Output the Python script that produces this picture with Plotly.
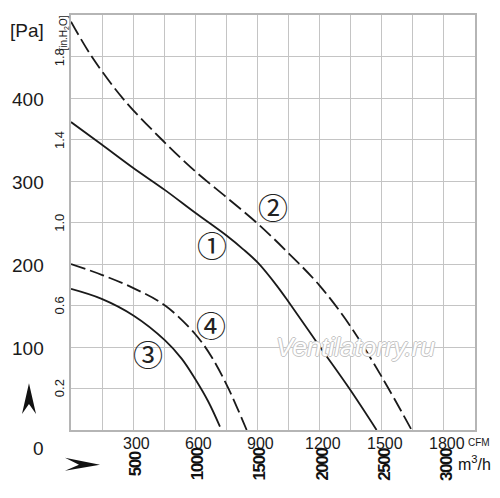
import plotly.graph_objects as go

# fan curves, flow in CFM, static pressure in Pa
flow_1 = [0, 148, 299, 454, 598, 752, 830, 904, 993, 1054, 1202, 1346, 1475]
pres_1 = [371, 344, 316, 289, 262, 234, 218, 201, 174, 153, 100, 49, 0]

flow_2 = [0, 100, 252, 438, 598, 752, 904, 1054, 1200, 1346, 1500, 1644]
pres_2 = [492, 450, 399, 350, 312, 280, 248, 212, 174, 126, 64, 0]

flow_3 = [0, 148, 301, 454, 534, 598, 663, 719]
pres_3 = [170, 158, 138, 108, 86, 62, 34, 4]

flow_4 = [0, 148, 301, 454, 598, 679, 752, 800, 848]
pres_4 = [200, 187, 171, 150, 116, 88, 54, 28, 0]

curve_labels = ["①", "②", "③", "④"]
label_flow = [679, 976, 370, 674]
label_pres = [224, 270, 93, 128]

pa_ticks = [0, 100, 200, 300, 400]
inh2o_ticks = [0.2, 0.6, 1.0, 1.4, 1.8]
cfm_ticks = [300, 600, 900, 1200, 1500, 1800]
m3h_ticks = [500, 1000, 1500, 2000, 2500, 3000]

PA_PER_INH2O = 249.1
M3H_SCALE = 0.6  # the chart draws 500 m3/h under 300 CFM

FONT = "Liberation Sans, Arial, sans-serif"
INK = "#1a1a1a"

fig = go.Figure()

solid = dict(color=INK, width=1.8, shape="spline", smoothing=1.0)
dashed = dict(color=INK, width=1.8, dash="15px,5px", shape="spline", smoothing=1.0)

fig.add_trace(go.Scatter(x=flow_1, y=pres_1, mode="lines", line=solid))
fig.add_trace(go.Scatter(x=flow_2, y=pres_2, mode="lines", line=dashed))
fig.add_trace(go.Scatter(x=flow_3, y=pres_3, mode="lines", line=solid))
fig.add_trace(go.Scatter(x=flow_4, y=pres_4, mode="lines", line=dashed))

# circled curve numbers
for lab, fx, py in zip(curve_labels, label_flow, label_pres):
    fig.add_annotation(x=fx, y=py, text=lab, showarrow=False,
                       font=dict(family="Noto Sans CJK JP, DejaVu Sans", size=30, color="#222"))

# Pa labels (left)
for v in pa_ticks:
    fig.add_annotation(x=0, xref="paper", y=v, text=str(v), showarrow=False,
                       xanchor="right", xshift=-25, yshift=-18 if v == 0 else -1,
                       font=dict(family=FONT, size=19, color=INK))

# in.H2O labels (rotated)
for v in inh2o_ticks:
    fig.add_annotation(x=0, xref="paper", y=v * PA_PER_INH2O, text=f"{v:.1f}",
                       showarrow=False, textangle=-90, xanchor="right", xshift=-2,
                       font=dict(family=FONT, size=13, color=INK))

# CFM labels
for v in cfm_ticks:
    fig.add_annotation(x=v, y=0, yref="paper", text=str(v), showarrow=False,
                       yanchor="top", yshift=-3, xshift=3,
                       font=dict(family=FONT, size=16, color=INK))

# m3/h labels (rotated)
for v in m3h_ticks:
    fig.add_annotation(x=v * M3H_SCALE, y=0, yref="paper",
                       text=f'<span style="letter-spacing:-1.5px">{v}</span>',
                       showarrow=False, textangle=-90, yanchor="middle", yshift=-34, xshift=2,
                       font=dict(family=FONT, size=17, color="#111", weight="bold"))

fig.add_annotation(x=0, y=1, xref="paper", yref="paper", text="[Pa]", showarrow=False,
                   xanchor="right", yanchor="top", xshift=-25, yshift=-3,
                   font=dict(family=FONT, size=19, color=INK))
fig.add_annotation(x=0, y=1, xref="paper", yref="paper", text="[in.H<sub>2</sub>O]",
                   showarrow=False, textangle=-90, xanchor="right", yanchor="top",
                   xshift=0, yshift=1, font=dict(family=FONT, size=10, color=INK))
fig.add_annotation(x=1, y=0, xref="paper", yref="paper", text="CFM", showarrow=False,
                   xanchor="left", yanchor="top", xshift=-9, yshift=-5,
                   font=dict(family=FONT, size=10, color=INK))
fig.add_annotation(x=1, y=0, xref="paper", yref="paper", text="m<sup>3</sup>/h",
                   showarrow=False, xanchor="left", yanchor="top", xshift=-19, yshift=-21,
                   font=dict(family=FONT, size=16, color="#111"))

fig.add_annotation(x=1371, y=100, text="<i>Ventilatorry.ru</i>", showarrow=False,
                   font=dict(family=FONT, size=26, color="#ffffff",
                             shadow="1px 0 0 #c4c4c4, -1px 0 0 #c4c4c4, 0 1px 0 #c4c4c4, 0 -1px 0 #c4c4c4"))


# little arrowheads next to the axes
def px(x, y):
    return (x - 71) / 404, (430 - y) / 417


def path(points):
    parts = []
    for i, (x, y) in enumerate(points):
        a, b = px(x, y)
        parts.append(("M" if i == 0 else "L") + f" {a:.4f} {b:.4f}")
    return " ".join(parts) + " Z"


fig.add_shape(type="path", xref="paper", yref="paper", fillcolor="#111", line=dict(width=0),
              path=path([(29, 383), (22, 414), (29, 404), (36, 414)]))
fig.add_shape(type="path", xref="paper", yref="paper", fillcolor="#111", line=dict(width=0),
              path=path([(100, 465), (65, 458), (79, 465), (65, 471)]))

fig.update_xaxes(range=[0, 1950], dtick=150, tick0=0, showticklabels=False,
                 showgrid=True, gridcolor="#c4c4c4", gridwidth=1.3, zeroline=False,
                 showline=True, linecolor="#b5b5b5", linewidth=1.5, mirror=True, ticks="")
fig.update_yaxes(range=[0, 500], dtick=50, tick0=0, showticklabels=False,
                 showgrid=True, gridcolor="#c4c4c4", gridwidth=1.3, zeroline=False,
                 showline=True, linecolor="#b5b5b5", linewidth=1.5, mirror=True, ticks="")

# the page puts an 8px margin round the figure, so the figure is sized to fit inside it
fig.update_layout(
    width=484, height=482,
    margin=dict(l=63, r=17, t=5, b=60),
    paper_bgcolor="white", plot_bgcolor="white",
    showlegend=False,
)

fig.write_html("out.html")
